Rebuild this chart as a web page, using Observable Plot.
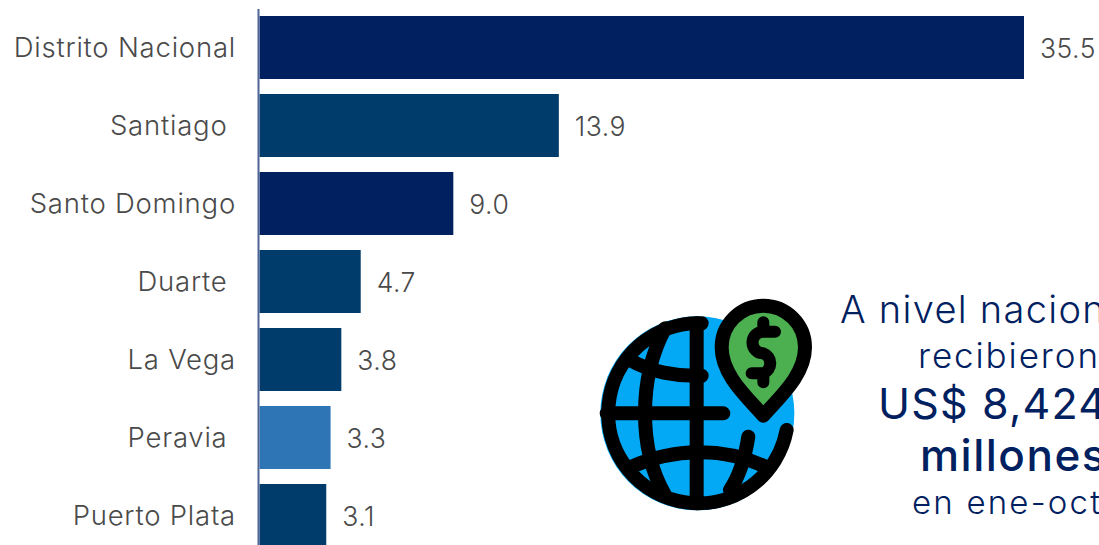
<!DOCTYPE html>
<html><head><meta charset="utf-8">
<script src="https://cdn.jsdelivr.net/npm/d3@7"></script>
<script src="https://cdn.jsdelivr.net/npm/@observablehq/plot@0.6"></script>
<style>
html,body{margin:0;padding:0;background:#fff;width:1099px;height:545px;overflow:hidden}
#chart{position:absolute;left:0;top:0}
#chart svg{display:block}
.line{position:absolute;white-space:nowrap;color:#002060;font-family:Inter,sans-serif;font-weight:300;line-height:1}
#icon{position:absolute;left:590px;top:285px}
</style></head><body>
<div id="chart"></div>
<svg id="icon" width="509" height="260" viewBox="0 0 1527 780" fill="none" stroke="#000" stroke-width="42" stroke-linecap="round" stroke-linejoin="round">
<circle cx="322" cy="385" r="291" fill="#03a9f4" stroke="none"/>
<path d="M335 115A270 270 0 1 0 590 435"/>
<path d="M320 115V655M50 385H400"/>
<path d="M225 130C185 205 165 290 165 385C165 490 190 570 225 630"/>
<path d="M475 455C465 520 450 570 420 615"/>
<path d="M120 225C180 260 260 275 335 272"/>
<path d="M125 545C250 490 400 485 525 545"/>
<path d="M520 392C470 335 395 270 395 187A125 125 0 0 1 645 187C645 270 570 335 520 392Z" fill="#4caf50"/>
<path d="M555 140H520A32 32 0 0 0 520 205A32 32 0 0 1 520 265H485M520 112V140M520 265V292" stroke-width="36"/>
</svg>
<div class="line" style="left:840px;top:290px;font-size:38px;letter-spacing:1.3px">A nivel nacional</div>
<div class="line" style="left:918px;top:338px;font-size:35px;letter-spacing:1.9px">recibieron</div>
<div class="line" style="left:878px;top:382px;font-size:43px;letter-spacing:1.2px;font-weight:400">US$ 8,424</div>
<div class="line" style="left:920px;top:433px;font-size:44px;letter-spacing:1.5px;font-weight:500">millones</div>
<div class="line" style="left:912px;top:486px;font-size:33px;letter-spacing:2.2px">en ene-oct</div>
<script>
const names = ["Distrito Nacional","Santiago\u00a0","Santo Domingo","Duarte\u00a0","La Vega","Peravia\u00a0","Puerto Plata"];
const values = [35.5,13.9,9.0,4.7,3.8,3.3,3.1];
const colors = ["#002060","#003c6b","#002060","#003c6b","#003c6b","#2e75b6","#003c6b"];
const rows = names.map((name,i)=>({name,value:values[i],color:colors[i]}));
const font = "Inter, sans-serif";
const plot = Plot.plot({
  width:1099,height:545,marginTop:9,marginBottom:0,marginLeft:0,marginRight:0,
  x:{domain:[0,35.5],range:[259.5,1024],axis:null},
  y:{domain:names,range:[8.6,555.3],paddingInner:0.193,paddingOuter:0.0965,align:0.5,axis:null},
  marks:[
    Plot.barX(rows,{x:"value",y:"name",fill:"color"}),
    Plot.ruleX([0],{stroke:"#4f6596",strokeWidth:2,dx:-1.5}),
    Plot.text(rows,{x:0,y:"name",text:"name",textAnchor:"end",dx:-24,fill:"#4a4a4a",fontSize:27.5,fontWeight:300,fontFamily:font}),
    Plot.text(rows,{x:"value",y:"name",text:d=>d.value.toFixed(1),textAnchor:"start",dx:15.5,dy:2,fill:"#4a4a4a",fontSize:26.5,fontWeight:300,fontFamily:font})
  ]
});
d3.select(plot).selectAll("text").style("letter-spacing",function(){return /\d/.test(this.textContent)?"0.5px":"0.78px";});
document.getElementById("chart").append(plot);
</script>
</body></html>
